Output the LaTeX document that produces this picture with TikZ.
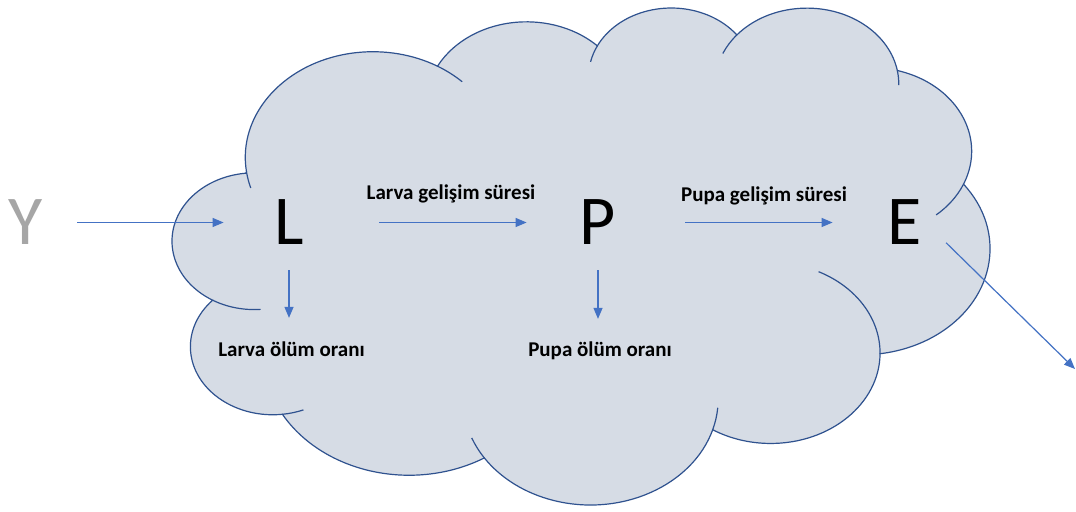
\documentclass[tikz,border=0pt]{standalone}
\usepackage{fontspec}
\setmainfont{Carlito}
\usetikzlibrary{arrows.meta}
\definecolor{cloudfill}{RGB}{214,220,229}
\definecolor{cloudedge}{RGB}{47,82,143}
\definecolor{arrowblue}{RGB}{68,114,196}
\definecolor{ygray}{RGB}{166,166,166}
\begin{document}
\begin{tikzpicture}[x=0.5pt,y=-0.5pt,
  cloudbody/.style={fill=cloudfill, draw=cloudedge, line width=0.6pt},
  cloudline/.style={draw=cloudedge, line width=0.6pt},
  letter/.style={font=\fontsize{35}{42}\selectfont, inner sep=0pt, minimum width=20pt, minimum height=23pt},
  lbl/.style={font=\fontsize{10.5}{12}\selectfont\bfseries, inner sep=0pt},
  arr/.style={draw=arrowblue, line width=0.6pt, -{Triangle[length=5.5pt,width=4.5pt]}}
]
\fill[white] (0,0) rectangle (1076,512);
\useasboundingbox (0,0) rectangle (1076,512);
\coordinate (cloudorigin) at (172.7,6.4);
\begin{scope}[shift={(cloudorigin)}, x=0.9456pt, y=-0.575pt]
\path[cloudbody] (39.00,143.70) coordinate (j0)
 arc[x radius=67.53, y radius=91.90, start angle=-187.747, end angle=-59.659] coordinate (j1)
 arc[x radius=53.33, y radius=72.67, start angle=-152.026, end angle=-45.432] coordinate (j2)
 arc[x radius=43.65, y radius=59.45, start angle=-153.481, end angle=-37.331] coordinate (j3)
 arc[x radius=48.57, y radius=65.95, start angle=-139.715, end angle=-10.212] coordinate (j4)
 arc[x radius=53.33, y radius=72.73, start angle=-74.768, end angle=23.208] coordinate (j5)
 arc[x radius=67.75, y radius=92.20, start angle=-37.53, end angle=81.862] coordinate (j6)
 arc[x radius=57.85, y radius=78.67, start angle=0.460, end angle=121.981] coordinate (j7)
 arc[x radius=67.52, y radius=92.15, start angle=16.845, end angle=146.238] coordinate (j8)
 arc[x radius=77.20, y radius=105.43, start angle=58.987, end angle=150.185] coordinate (j9)
 arc[x radius=43.60, y radius=59.18, start angle=-276.693, end angle=-136.893] coordinate (j10)
 arc[x radius=43.45, y radius=59.45, start angle=-239.645, end angle=-95.887] -- cycle;
\draw[cloudline] (j10) arc[x radius=43.45, y radius=59.45, start angle=120.355, end angle=85.545];
\draw[cloudline] (j9) arc[x radius=43.60, y radius=59.18, start angle=83.307, end angle=68.240];
\draw[cloudline] (j8) arc[x radius=67.52, y radius=92.15, start angle=146.238, end angle=158.474];
\draw[cloudline] (j7) arc[x radius=67.52, y radius=92.15, start angle=16.845, end angle=4.737];
\draw[cloudline] (j6) arc[x radius=57.85, y radius=78.67, start angle=0.460, end angle=-64.022];
\draw[cloudline] (j5) arc[x radius=53.33, y radius=72.73, start angle=23.208, end angle=49.640];
\draw[cloudline] (j4) arc[x radius=48.57, y radius=65.95, start angle=-10.212, end angle=0.821];
\draw[cloudline] (j3) arc[x radius=48.57, y radius=65.95, start angle=-139.715, end angle=-156.280];
\draw[cloudline] (j2) arc[x radius=43.65, y radius=59.45, start angle=-153.481, end angle=-167.726];
\draw[cloudline] (j1) arc[x radius=67.53, y radius=91.90, start angle=-59.659, end angle=-45.729];
\draw[cloudline] (j0) arc[x radius=67.53, y radius=91.90, start angle=172.253, end angle=163.193];
\end{scope}

\node[letter, text=ygray] (Y) at (26,222.5) {Y};
\node[letter] (L) at (289,222.5) {L};
\node[letter] (P) at (598,222.5) {P};
\node[letter] (E) at (905,222.5) {E};

\node[lbl, anchor=base] (lgs) at (451,200) {Larva gelişim süresi};
\node[lbl, anchor=base] (pgs) at (764,202) {Pupa gelişim süresi};
\node[lbl, anchor=base] (lmo) at (291.5,357) {Larva ölüm oranı};
\node[lbl, anchor=base] (pmo) at (600,357) {Pupa ölüm oranı};

\coordinate (Eout) at (1075,369);

\draw[arr, shorten <=15.5pt, shorten >=22.5pt] (Y.east) -- (L.west);
\draw[arr, shorten <=35pt, shorten >=25.5pt] (L.east) -- (P.west);
\draw[arr, shorten <=33.5pt, shorten >=26pt] (P.east) -- (E.west);
\draw[arr, shorten <=12.25pt, shorten >=12pt] (L.south) -- (L.south |- lmo.north);
\draw[arr, shorten <=12.25pt, shorten >=11.5pt] (P.south) -- (P.south |- pmo.north);
\draw[arr, shorten <=14.5pt] (E.east) -- (Eout);
\end{tikzpicture}
\end{document}
